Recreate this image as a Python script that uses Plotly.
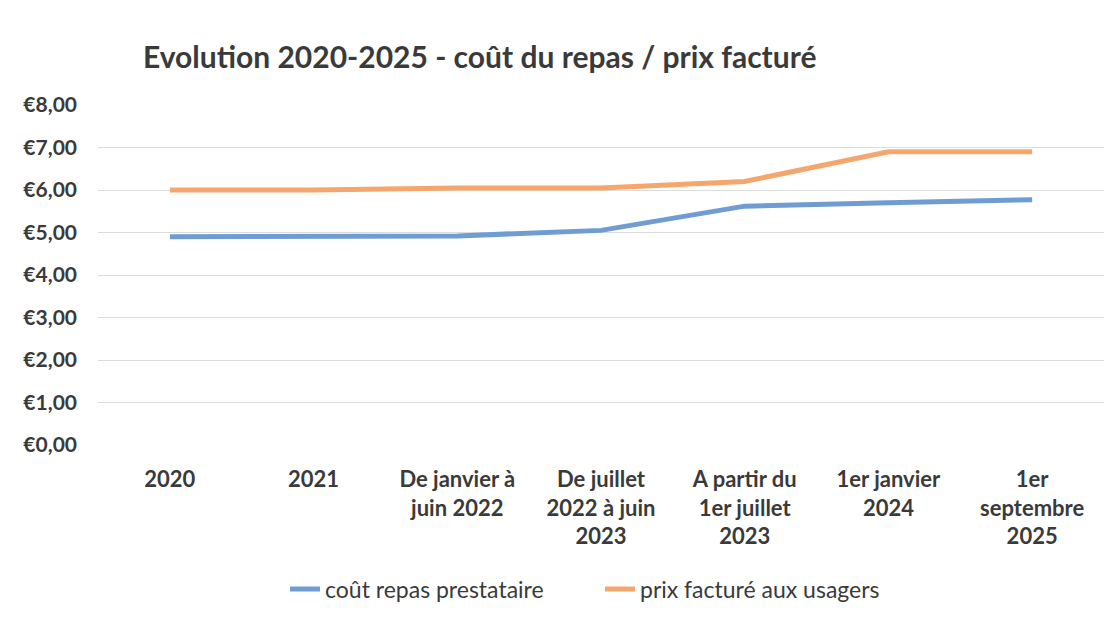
import plotly.graph_objects as go

categories = [
    "2020",
    "2021",
    "De janvier à<br>juin 2022",
    "De juillet<br>2022 à juin<br>2023",
    "A partir du<br>1er juillet<br>2023",
    "1er janvier<br>2024",
    "1er<br>septembre<br>2025",
]
cout_repas = [4.90, 4.90, 4.92, 5.05, 5.62, 5.70, 5.77]
prix_facture = [6.00, 6.00, 6.05, 6.05, 6.20, 6.90, 6.90]
y_ticks = [0, 1, 2, 3, 4, 5, 6, 7, 8]
y_ticklabels = ["€%d,00" % v for v in y_ticks]

FONT = "Lato, 'Open Sans', sans-serif"
TXT = "#3a3a3a"

W, H = 1109, 614  # page body has an 8px margin

fig = go.Figure()
fig.add_trace(go.Scatter(
    x=categories, y=cout_repas, mode="lines", name="coût repas prestataire",
    line=dict(color="#6f9dd3", width=5),
))
fig.add_trace(go.Scatter(
    x=categories, y=prix_facture, mode="lines", name="prix facturé aux usagers",
    line=dict(color="#f5a66c", width=5),
))

fig.update_layout(
    width=W, height=H,
    paper_bgcolor="white", plot_bgcolor="white",
    margin=dict(l=90, r=13, t=97, b=175),
    title=dict(
        text="<b>Evolution 2020-2025 - coût du repas / prix facturé</b>",
        x=135 / W, xanchor="left", xref="container",
        y=1 - 49 / H, yanchor="middle", yref="container",
        font=dict(family=FONT, size=30, color=TXT),
    ),
    showlegend=True,
    legend=dict(
        orientation="h", x=0.499, xanchor="center", y=-0.424, yanchor="middle",
        font=dict(family=FONT, size=23, color=TXT),
        bgcolor="rgba(0,0,0,0)",
        entrywidth=270, entrywidthmode="pixels",
    ),
    xaxis=dict(
        type="category", range=[-0.5, 6.5],
        showgrid=False, zeroline=False, showline=False,
        tickfont=dict(family=FONT, size=22, color=TXT, weight="bold"),
        ticks="", ticklabelstandoff=19,
    ),
    yaxis=dict(
        range=[0, 8], tickvals=y_ticks, ticktext=y_ticklabels,
        showgrid=True, gridcolor="#dcdcdc", gridwidth=1,
        zeroline=False, showline=False,
        tickfont=dict(family=FONT, size=21, color=TXT, weight="bold"),
        ticks="", ticklabelstandoff=20,
    ),
)

fig.write_html("out.html")
